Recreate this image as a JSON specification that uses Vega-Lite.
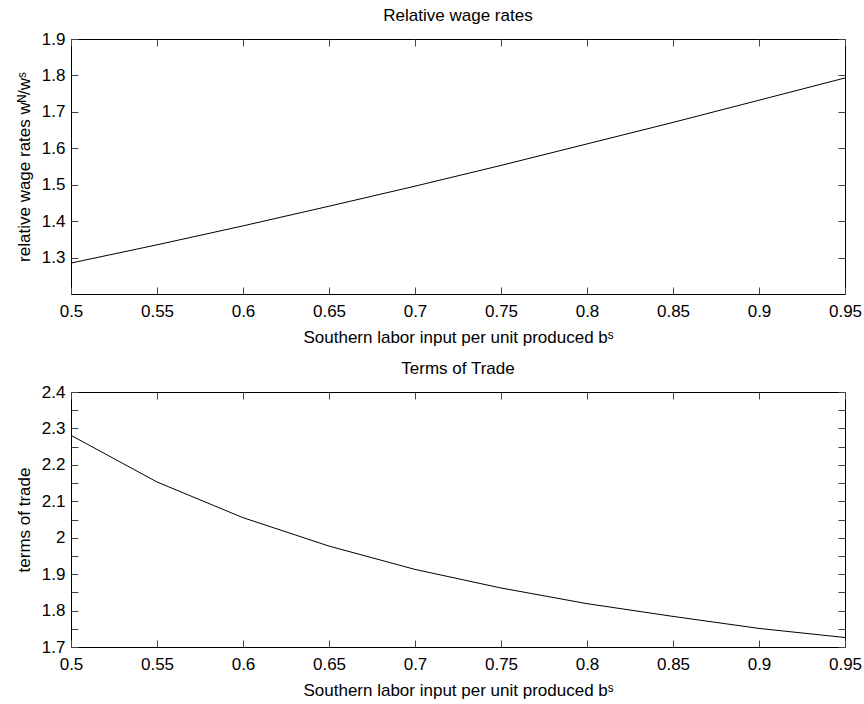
{
  "$schema": "https://vega.github.io/schema/vega-lite/v6.json",
  "padding": {"left": 14, "top": 6, "right": 4, "bottom": 2},
  "spacing": 13,
  "background": "white",
  "config": {
    "font": "Liberation Sans",
    "view": {"stroke": "black", "strokeWidth": 1},
    "axis": {
      "labelFont": "Liberation Sans", "labelFontSize": 17, "labelColor": "black",
      "titleFont": "Liberation Sans", "titleFontSize": 17, "titleFontWeight": "normal", "titleColor": "black",
      "grid": false, "domain": false, "tickSize": -7, "tickColor": "#444", "tickWidth": 1,
      "labelFlush": false, "labelOverlap": false
    },
    "title": {"font": "Liberation Sans", "fontSize": 17, "fontWeight": "normal", "color": "black", "baseline": "alphabetic", "offset": 5}
  },
  "datasets": {
    "wage": [
      {"b": 0.5, "v": 1.285}, {"b": 0.55, "v": 1.335}, {"b": 0.6, "v": 1.387}, {"b": 0.65, "v": 1.441},
      {"b": 0.7, "v": 1.496}, {"b": 0.75, "v": 1.553}, {"b": 0.8, "v": 1.612}, {"b": 0.85, "v": 1.671},
      {"b": 0.9, "v": 1.732}, {"b": 0.95, "v": 1.793}
    ],
    "tot": [
      {"b": 0.5, "v": 2.281}, {"b": 0.55, "v": 2.153}, {"b": 0.6, "v": 2.055}, {"b": 0.65, "v": 1.977},
      {"b": 0.7, "v": 1.913}, {"b": 0.75, "v": 1.862}, {"b": 0.8, "v": 1.819}, {"b": 0.85, "v": 1.784},
      {"b": 0.9, "v": 1.751}, {"b": 0.95, "v": 1.726}
    ]
  },
  "vconcat": [
    {
      "title": "Relative wage rates",
      "width": 774, "height": 255,
      "data": {"name": "wage"},
      "layer": [
        {
          "mark": {"type": "line", "color": "black", "strokeWidth": 1},
          "encoding": {
            "x": {"field": "b", "type": "quantitative",
              "scale": {"domain": [0.5, 0.95], "nice": false, "zero": false},
              "axis": {"values": [0.5, 0.55, 0.6, 0.65, 0.7, 0.75, 0.8, 0.85, 0.9, 0.95], "format": ".2~f",
                "title": "Southern labor input per unit produced bˢ", "labelPadding": 16, "titlePadding": 10}},
            "y": {"field": "v", "type": "quantitative",
              "scale": {"domain": [1.2, 1.9], "nice": false, "zero": false},
              "axis": {"values": [1.3, 1.4, 1.5, 1.6, 1.7, 1.8, 1.9], "format": ".1f",
                "title": "relative wage rates wᴺ/wˢ", "labelPadding": 13, "titlePadding": 8}}
          }
        },
        {
          "mark": {"type": "line", "strokeOpacity": 0},
          "encoding": {
            "x": {"field": "b", "type": "quantitative",
              "scale": {"domain": [0.5, 0.95], "nice": false, "zero": false},
              "axis": {"orient": "top", "values": [0.5, 0.55, 0.6, 0.65, 0.7, 0.75, 0.8, 0.85, 0.9, 0.95], "labels": false, "title": null}},
            "y": {"field": "v", "type": "quantitative",
              "scale": {"domain": [1.2, 1.9], "nice": false, "zero": false},
              "axis": {"orient": "right", "values": [1.3, 1.4, 1.5, 1.6, 1.7, 1.8, 1.9], "labels": false, "title": null, "minExtent": 0}}
          }
        }
      ],
      "resolve": {"axis": {"x": "independent", "y": "independent"}}
    },
    {
      "title": "Terms of Trade",
      "width": 774, "height": 255,
      "data": {"name": "tot"},
      "layer": [
        {
          "mark": {"type": "line", "color": "black", "strokeWidth": 1},
          "encoding": {
            "x": {"field": "b", "type": "quantitative",
              "scale": {"domain": [0.5, 0.95], "nice": false, "zero": false},
              "axis": {"values": [0.5, 0.55, 0.6, 0.65, 0.7, 0.75, 0.8, 0.85, 0.9, 0.95], "format": ".2~f",
                "title": "Southern labor input per unit produced bˢ", "labelPadding": 16, "titlePadding": 10}},
            "y": {"field": "v", "type": "quantitative",
              "scale": {"domain": [1.7, 2.4], "nice": false, "zero": false},
              "axis": {"values": [1.7, 1.75, 1.8, 1.85, 1.9, 1.95, 2.0, 2.05, 2.1, 2.15, 2.2, 2.25, 2.3, 2.35, 2.4],
                "labelExpr": "abs(datum.value*10 - round(datum.value*10)) < 0.001 ? format(datum.value, '.1~f') : ''",
                "title": "terms of trade", "labelPadding": 13, "titlePadding": 8}}
          }
        },
        {
          "mark": {"type": "line", "strokeOpacity": 0},
          "encoding": {
            "x": {"field": "b", "type": "quantitative",
              "scale": {"domain": [0.5, 0.95], "nice": false, "zero": false},
              "axis": {"orient": "top", "values": [0.5, 0.55, 0.6, 0.65, 0.7, 0.75, 0.8, 0.85, 0.9, 0.95], "labels": false, "title": null}},
            "y": {"field": "v", "type": "quantitative",
              "scale": {"domain": [1.7, 2.4], "nice": false, "zero": false},
              "axis": {"orient": "right", "values": [1.7, 1.75, 1.8, 1.85, 1.9, 1.95, 2.0, 2.05, 2.1, 2.15, 2.2, 2.25, 2.3, 2.35, 2.4], "labels": false, "title": null, "minExtent": 0}}
          }
        }
      ],
      "resolve": {"axis": {"x": "independent", "y": "independent"}}
    }
  ]
}
